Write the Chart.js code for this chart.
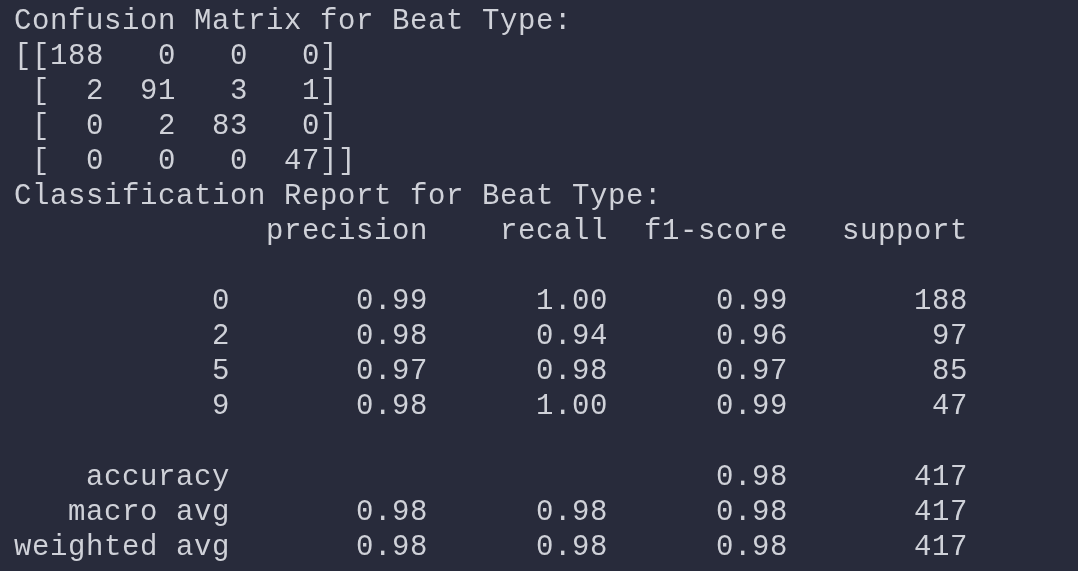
<!DOCTYPE html>
<html><head><meta charset="utf-8">
<script src="https://cdn.jsdelivr.net/npm/chart.js@4"></script>
<style>html,body{margin:0;padding:0;background:#282b3b;}#w{width:1078px;height:571px;}</style>
</head><body><div id="w"><canvas id="c"></canvas></div>
<script>
const title1 = "Confusion Matrix for Beat Type:";
const matrix = [[188,0,0,0],[2,91,3,1],[0,2,83,0],[0,0,0,47]];
const title2 = "Classification Report for Beat Type:";
const header = ["precision","recall","f1-score","support"];
const classes = ["0","2","5","9"];
const precision = [0.99,0.98,0.97,0.98];
const recall = [1.00,0.94,0.98,1.00];
const f1 = [0.99,0.96,0.97,0.99];
const support = [188,97,85,47];
const accuracy = [0.98,417];
const macroAvg = [0.98,0.98,0.98,417];
const weightedAvg = [0.98,0.98,0.98,417];

const pad=(s,n)=>String(s).padStart(n);
const f=v=>v.toFixed(2);
const lines=[title1];
matrix.forEach((r,i)=>{
  let s=(i===0?"[[":" [")+r.map(v=>pad(v,3)).join(" ")+"]"+(i===matrix.length-1?"]":"");
  lines.push(s);
});
lines.push(title2);
lines.push(pad(header[0],23)+pad(header[1],10)+pad(header[2],10)+pad(header[3],10));
lines.push("");
classes.forEach((c,i)=>lines.push(pad(c,12)+pad(f(precision[i]),11)+pad(f(recall[i]),10)+pad(f(f1[i]),10)+pad(support[i],10)));
lines.push("");
lines.push(pad("accuracy",12)+pad("",21)+pad(f(accuracy[0]),10)+pad(accuracy[1],10));
lines.push(pad("macro avg",12)+pad(f(macroAvg[0]),11)+pad(f(macroAvg[1]),10)+pad(f(macroAvg[2]),10)+pad(macroAvg[3],10));
lines.push(pad("weighted avg",12)+pad(f(weightedAvg[0]),11)+pad(f(weightedAvg[1]),10)+pad(f(weightedAvg[2]),10)+pad(weightedAvg[3],10));

const textPlugin={id:'txt',afterDatasetsDraw(ch){
  const ctx=ch.ctx,xs=ch.scales.x,ys=ch.scales.y;
  ctx.save();ctx.fillStyle='#cfd1d8';ctx.font='29px "Liberation Mono", monospace';
  ctx.textBaseline='middle';ctx.textAlign='left';
  lines.forEach((l,i)=>{
    for(let k=0;k<l.length;k++){ if(l[k]!==' ') ctx.fillText(l[k],xs.getPixelForValue(k),ys.getPixelForValue(i)); }
  });
  ctx.restore();
}};
new Chart(document.getElementById('c'),{
  type:'scatter',
  data:{datasets:[{data:lines.map((l,i)=>({x:0,y:i})),pointRadius:0}]},
  options:{responsive:true,maintainAspectRatio:false,animation:false,
    layout:{padding:0},
    plugins:{legend:{display:false},tooltip:{enabled:false}},
    scales:{
      x:{type:'linear',min:-0.778,max:59.11,display:false},
      y:{type:'linear',min:-0.6,max:15.684,reverse:true,display:false}
    }},
  plugins:[textPlugin]
});
</script></body></html>
